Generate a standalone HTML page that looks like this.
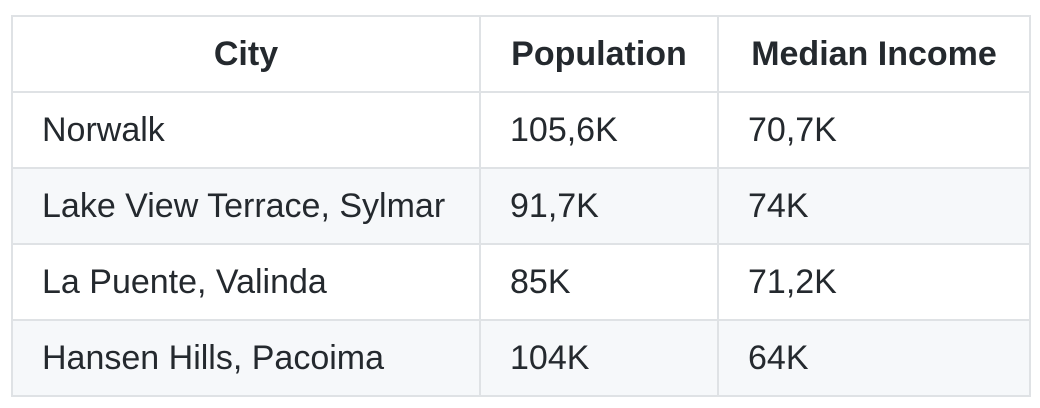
<!DOCTYPE html>
<html><head><meta charset="utf-8"><style>
body{margin:0;width:1040px;height:408px;background:#fff;font-family:"Liberation Sans",Arial,sans-serif;color:#24292e;overflow:hidden}
table{position:absolute;left:11px;top:15px;border-collapse:collapse}
td,th{border:2px solid #dfe2e5;height:76px;padding:0 0 0 29px;font-size:34px;text-align:left;box-sizing:border-box}
th{font-weight:bold;text-align:center;padding:0}
tr.alt td{background:#f6f8fa}
</style></head><body>
<table>
<colgroup><col style="width:468px"><col style="width:238px"><col style="width:312px"></colgroup>
<tr><th>City</th><th>Population</th><th>Median Income</th></tr>
<tr><td>Norwalk</td><td>105,6K</td><td>70,7K</td></tr>
<tr class="alt"><td>Lake View Terrace, Sylmar</td><td>91,7K</td><td>74K</td></tr>
<tr><td>La Puente, Valinda</td><td>85K</td><td>71,2K</td></tr>
<tr class="alt"><td>Hansen Hills, Pacoima</td><td>104K</td><td>64K</td></tr>
</table>
</body></html>
